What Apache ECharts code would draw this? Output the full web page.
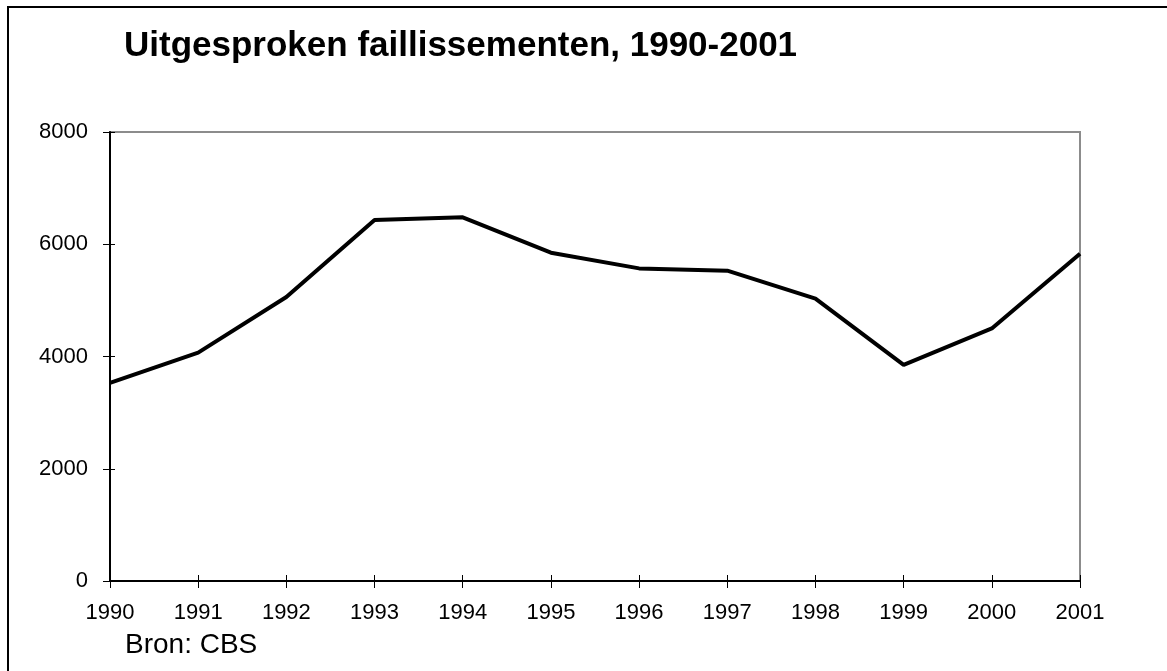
<!DOCTYPE html>
<html>
<head>
<meta charset="utf-8">
<script src="https://cdn.jsdelivr.net/npm/echarts@6/dist/echarts.min.js"></script>
<style>
  html, body { margin: 0; padding: 0; background: #fff; }
  #chart { width: 1167px; height: 671px; }
</style>
</head>
<body>
<div id="chart"></div>
<script>
// jaren (categorieën) en aantallen faillissementen
const years = ['1990', '1991', '1992', '1993', '1994', '1995', '1996', '1997', '1998', '1999', '2000', '2001']
const bankruptcies = [3530, 4070, 5060, 6430, 6480, 5850, 5570, 5530, 5030, 3850, 4500, 5830]
const yTicks = [0, 2000, 4000, 6000, 8000]

const font = 'Liberation Sans, Arial, sans-serif'

let chart = echarts.init(document.getElementById('chart'))

let options = {
  animation: false,
  backgroundColor: '#fff',
  title: {
    text: 'Uitgesproken faillissementen, 1990-2001',
    left: 119,
    top: 24,
    textStyle: {fontFamily: font, fontSize: 35, fontWeight: 'bold', color: '#000'}
  },
  graphic: [
    // kader rond de hele grafiek
    {type: 'rect', shape: {x: 8, y: 7, width: 1250, height: 750}, style: {fill: 'none', stroke: '#000', lineWidth: 2}},
    {type: 'text', left: 125, top: 631, style: {text: 'Bron: CBS', font: '28px ' + font, fill: '#000'}}
  ],
  grid: {
    left: 110, right: 87, top: 132, bottom: 90,
    show: true, borderColor: '#8c8c8c', borderWidth: 2
  },
  xAxis: [
    {
      type: 'category',
      data: years,
      boundaryGap: false,
      axisLine: {lineStyle: {color: '#000', width: 2}},
      axisTick: {length: 7, lineStyle: {color: '#000'}},
      axisLabel: {color: '#000', fontFamily: font, fontSize: 22, margin: 21},
      splitLine: {show: false}
    },
    {
      type: 'category',
      data: years,
      boundaryGap: false,
      position: 'bottom',
      axisLine: {show: false},
      axisTick: {inside: true, length: 6, lineStyle: {color: '#000'}},
      axisLabel: {show: false},
      splitLine: {show: false}
    }
  ],
  yAxis: [
    {
      type: 'value',
      min: yTicks[0],
      max: yTicks[yTicks.length - 1],
      interval: 2000,
      axisLine: {show: true, lineStyle: {color: '#000', width: 2}},
      axisTick: {show: true, length: 7, lineStyle: {color: '#000'}},
      axisLabel: {color: '#000', fontFamily: font, fontSize: 22, margin: 22, formatter: v => String(v)},
      splitLine: {show: false}
    },
    {
      type: 'value',
      position: 'left',
      min: yTicks[0],
      max: yTicks[yTicks.length - 1],
      interval: 2000,
      axisLine: {show: false},
      axisTick: {show: true, inside: true, length: 5, lineStyle: {color: '#000'}},
      axisLabel: {show: false},
      splitLine: {show: false}
    }
  ],
  series: [
    {
      type: 'line',
      data: bankruptcies,
      symbol: 'none',
      lineStyle: {color: '#000', width: 4}
    }
  ]
}

chart.setOption(options)
</script>
</body>
</html>
